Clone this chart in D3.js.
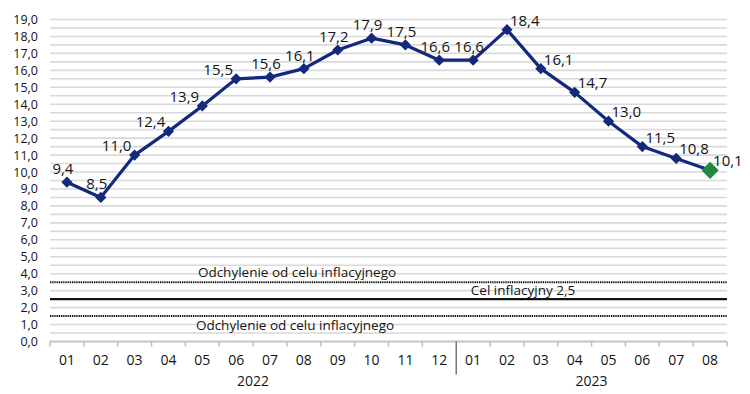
<!DOCTYPE html>
<html>
<head>
<meta charset="utf-8">
<script src="https://cdn.jsdelivr.net/npm/d3@7"></script>
<style>
  body { margin: 0; background: #fff; }
  text { font-family: "Open Sans", "Noto Sans", sans-serif; fill: #141414; }
</style>
</head>
<body>
<svg id="chart" width="750" height="394"></svg>
<script>
// months (2022-01 .. 2023-08)
const months = ["01","02","03","04","05","06","07","08","09","10","11","12",
                "01","02","03","04","05","06","07","08"];
const years = ["2022", "2023"];
const yearSplit = 12; // first month of 2023
const cpi = [9.4, 8.5, 11.0, 12.4, 13.9, 15.5, 15.6, 16.1, 17.2, 17.9, 17.5, 16.6,
             16.6, 18.4, 16.1, 14.7, 13.0, 11.5, 10.8, 10.1];
const target = 2.5;
const band = [1.5, 3.5];
const yTicks = d3.range(0, 19.01, 1);

const fmt = (v) => d3.format(".1f")(v).replace(".", ",");

const svg = d3.select("#chart");
const margin = { left: 50, right: 23, top: 19.5, bottom: 52.5 };
const width = 750, height = 394;

// scales
const x = d3.scaleBand()
  .domain(d3.range(cpi.length))
  .range([margin.left, width - margin.right]);
const y = d3.scaleLinear()
  .domain([0, 19])
  .range([height - margin.bottom, margin.top]);

// gridlines every 0.5
svg.append("g")
  .attr("class", "grid")
  .selectAll("line")
  .data(d3.range(0.5, 19.01, 0.5))
  .enter()
  .append("line")
  .attr("x1", margin.left)
  .attr("x2", width - margin.right)
  .attr("y1", (d) => y(d))
  .attr("y2", (d) => y(d))
  .attr("stroke", "#d9d9d9")
  .attr("stroke-width", 1.6);

// y axis labels
svg.append("g")
  .attr("transform", "translate(" + margin.left + ",0)")
  .call(d3.axisLeft(y).tickValues(yTicks).tickFormat(fmt).tickSize(0).tickPadding(12))
  .call((g) => g.select(".domain").remove())
  .selectAll("text")
  .style("font-size", "12.5px")
  .style("font-family", "'Open Sans', sans-serif")
  .style("font-weight", 500)
  .attr("fill", "#141414");

// x axis baseline + ticks at band boundaries
const x0 = y(0);
svg.append("line")
  .attr("x1", margin.left).attr("x2", width - margin.right)
  .attr("y1", x0).attr("y2", x0)
  .attr("stroke", "#c4c4c4").attr("stroke-width", 2);

svg.append("g")
  .selectAll("line")
  .data(d3.range(cpi.length + 1))
  .enter()
  .append("line")
  .attr("x1", (i) => margin.left + i * x.step())
  .attr("x2", (i) => margin.left + i * x.step())
  .attr("y1", x0)
  .attr("y2", (i) => (i === yearSplit ? x0 + 33 : x0 + 5))
  .attr("stroke", (i) => (i === yearSplit ? "#555" : "#bdbdbd"))
  .attr("stroke-width", (i) => (i === yearSplit ? 1.2 : 1.5));

// month labels
svg.append("g")
  .selectAll("text")
  .data(months)
  .enter()
  .append("text")
  .attr("x", (d, i) => x(i) + x.bandwidth() / 2)
  .attr("y", x0 + 23)
  .attr("text-anchor", "middle")
  .style("font-size", "14px")
  .style("font-weight", 500)
  .text((d) => d);

// year labels
svg.append("g")
  .selectAll("text")
  .data(years)
  .enter()
  .append("text")
  .attr("x", (d, i) => {
    const a = i === 0 ? 0 : yearSplit;
    const b = i === 0 ? yearSplit : cpi.length;
    return (margin.left + a * x.step() + margin.left + b * x.step()) / 2;
  })
  .attr("y", x0 + 44)
  .attr("text-anchor", "middle")
  .style("font-size", "14px")
  .style("font-weight", 500)
  .text((d) => d);

// tolerance band (dotted) and target (solid)
svg.append("g")
  .selectAll("line")
  .data(band)
  .enter()
  .append("line")
  .attr("x1", margin.left).attr("x2", width - margin.right)
  .attr("y1", (d) => y(d)).attr("y2", (d) => y(d))
  .attr("stroke", "#111")
  .attr("stroke-width", 2)
  .attr("stroke-dasharray", "1.2,1");

svg.append("line")
  .attr("x1", margin.left).attr("x2", width - margin.right)
  .attr("y1", y(target)).attr("y2", y(target))
  .attr("stroke", "#111")
  .attr("stroke-width", 2.2);

svg.append("text")
  .attr("x", 297).attr("y", y(band[1]) - 5)
  .attr("text-anchor", "middle")
  .style("font-size", "13.5px")
  .text("Odchylenie od celu inflacyjnego");
svg.append("text")
  .attr("x", 295).attr("y", y(band[0]) + 14)
  .attr("text-anchor", "middle")
  .style("font-size", "13.5px")
  .text("Odchylenie od celu inflacyjnego");
svg.append("text")
  .attr("x", 523).attr("y", y(target) - 4)
  .attr("text-anchor", "middle")
  .style("font-size", "13.5px")
  .text("Cel inflacyjny " + fmt(target));

// CPI line
const cx = (i) => x(i) + x.bandwidth() / 2;
svg.append("path")
  .datum(cpi)
  .attr("d", d3.line().x((d, i) => cx(i)).y((d) => y(d)))
  .attr("fill", "none")
  .attr("stroke", "#14287c")
  .attr("stroke-width", 3.2)
  .attr("stroke-linejoin", "round");

// diamond markers, last one green and larger
const last = cpi.length - 1;
svg.append("g")
  .selectAll("path")
  .data(cpi)
  .enter()
  .append("path")
  .attr("transform", (d, i) => "translate(" + cx(i) + "," + y(d) + ")")
  .attr("d", (d, i) =>
    d3.symbol().type(d3.symbolDiamond2).size(i === last ? 190 : 80)()
  )
  .attr("fill", (d, i) => (i === last ? "#1f8a3e" : "#14287c"));

// data labels
svg.append("g")
  .selectAll("text")
  .data(cpi)
  .enter()
  .append("text")
  .attr("x", (d, i) => {
    if (i > yearSplit) return cx(i) + 3;
    if (i > 0 && d - cpi[i - 1] > 1.2) return cx(i) - 18;
    return cx(i) - 4;
  })
  .attr("y", (d, i) => {
    if (i > yearSplit) return y(d) - 4;
    if (i > 0 && d - cpi[i - 1] > 1.2) return y(d) - 4;
    return y(d) - 8;
  })
  .attr("text-anchor", (d, i) => (i > yearSplit ? "start" : "middle"))
  .style("font-size", "15px")
  .text((d) => fmt(d));
</script>
</body>
</html>
